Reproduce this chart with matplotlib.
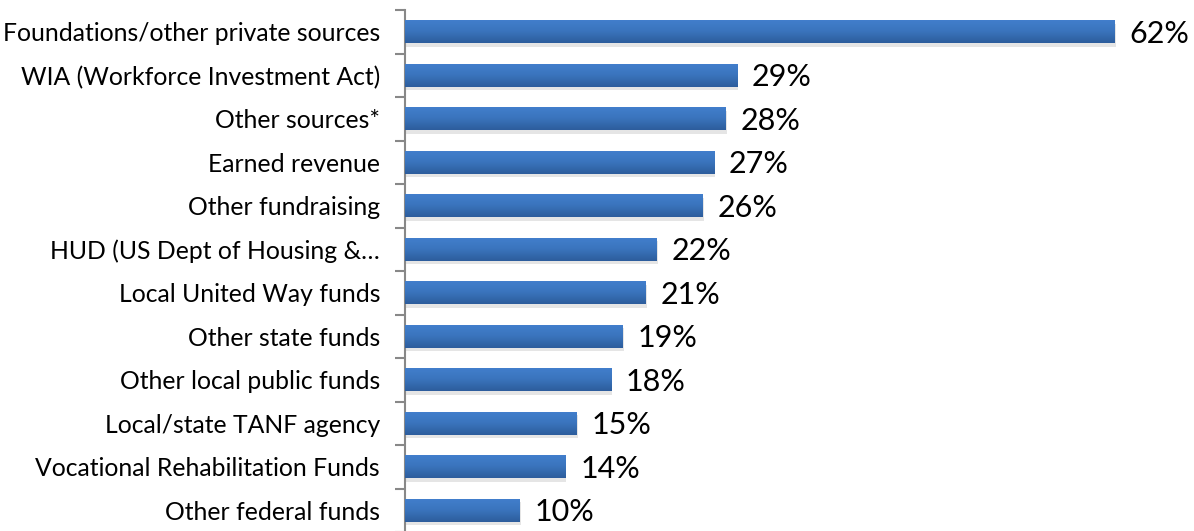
import numpy as np
import matplotlib
matplotlib.use("Agg")
import matplotlib.pyplot as plt
from matplotlib.colors import LinearSegmentedColormap
from matplotlib.patches import Rectangle

categories = [
    "Foundations/other private sources",
    "WIA (Workforce Investment Act)",
    "Other sources*",
    "Earned revenue",
    "Other fundraising",
    "HUD (US Dept of Housing &\u2026",
    "Local United Way funds",
    "Other state funds",
    "Other local public funds",
    "Local/state TANF agency",
    "Vocational Rehabilitation Funds",
    "Other federal funds",
]
values = [62, 29, 28, 27, 26, 22, 21, 19, 18, 15, 14, 10]

plt.rcParams['font.family'] = ['Lato', 'DejaVu Sans']

W, H = 1194, 531
fig = plt.figure(figsize=(W / 100, H / 100), dpi=100)
ax = fig.add_axes([405 / W, -1 / H, (W - 405) / W, (532 - 10) / H])

y = np.arange(len(categories))
bars = ax.barh(y, values, height=0.53, color='none', edgecolor='none', zorder=3)

cmap = LinearSegmentedColormap.from_list('g', ['#427FCD', '#3A74BD', '#2D5D9C'])
grad = np.linspace(0, 1, 64).reshape(-1, 1)
for b in bars:
    x0, y0 = b.get_x(), b.get_y()
    w, h = b.get_width(), b.get_height()
    sh = Rectangle((x0 + 0.1, y0 + 0.08), w, h, facecolor='#000000', alpha=0.10,
                   edgecolor='none', zorder=2)
    ax.add_patch(sh)
    im = ax.imshow(grad, extent=(x0, x0 + w, y0 + h, y0), aspect='auto',
                   cmap=cmap, origin='upper', zorder=3, interpolation='bilinear')
    im.set_clip_path(b)

for yi, v in zip(y, values):
    ax.text(v + 1.3, yi + 0.05, f"{v}%", va='center', ha='left', fontsize=22, color='black')

ax.set_xlim(0, (W - 405) / 11.45)
ax.set_ylim(len(categories) - 0.5, -0.5)
ax.set_yticks(y)
ax.set_yticklabels(categories, fontsize=17.8)
ax.set_yticks(np.arange(len(categories) + 1) - 0.5, minor=True)
ax.tick_params(axis='y', which='major', length=0, pad=18)
ax.tick_params(axis='y', which='minor', length=7, color='#888888', width=1.5)
ax.set_xticks([])
for s in ['top', 'right', 'bottom']:
    ax.spines[s].set_visible(False)
ax.spines['left'].set_color('#888888')
ax.spines['left'].set_linewidth(1.5)
ax.set_facecolor('none')

fig.savefig('out.png', dpi=100)
